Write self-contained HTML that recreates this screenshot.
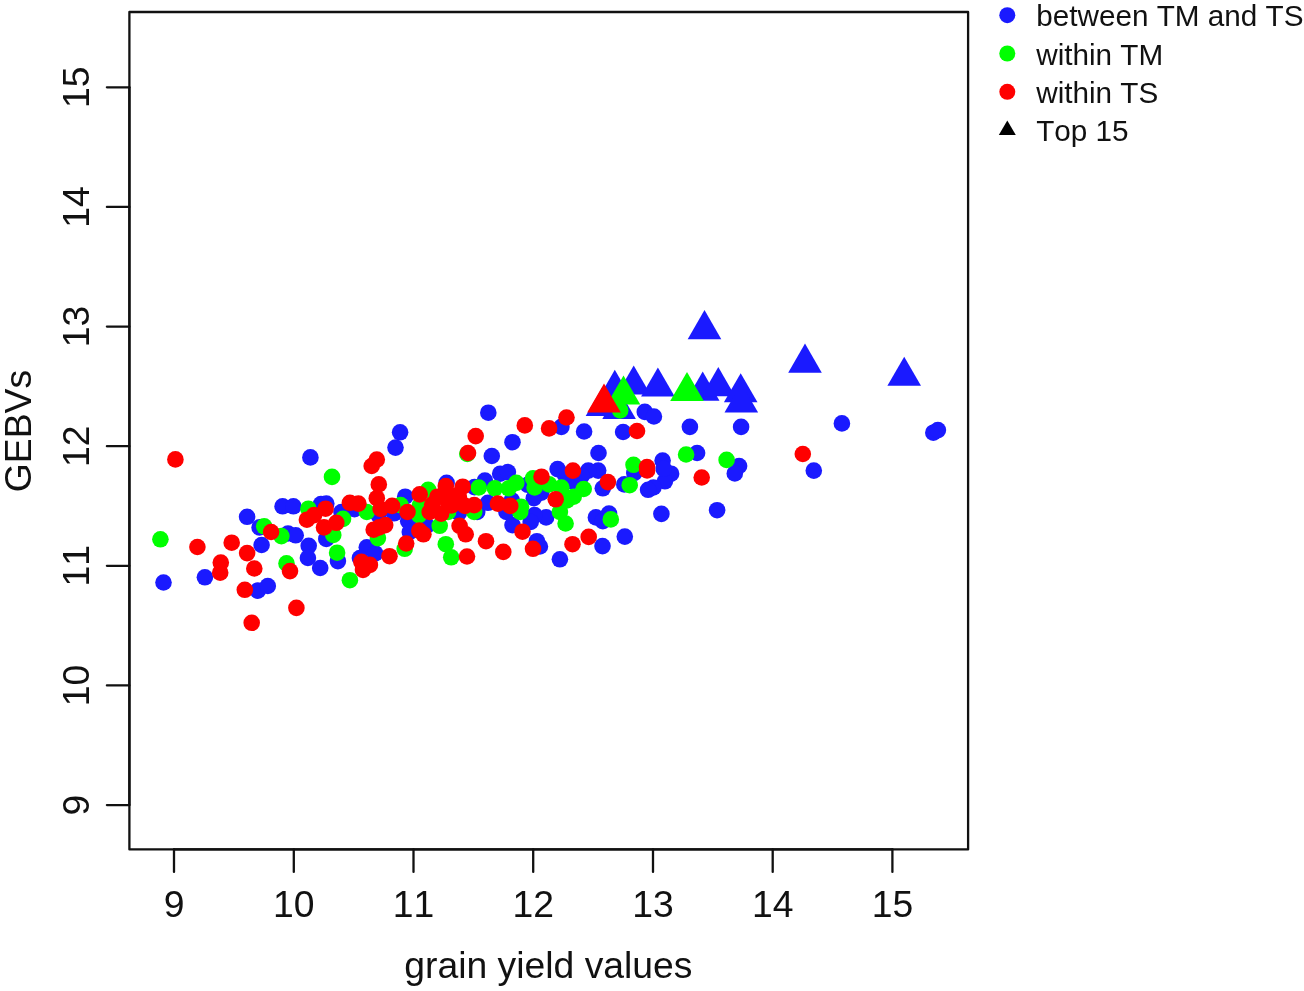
<!DOCTYPE html>
<html><head><meta charset="utf-8"><title>GEBVs vs grain yield values</title>
<style>
html,body{margin:0;padding:0;background:#fff;}
svg{display:block;}
text{font-family:"Liberation Sans",sans-serif;fill:#111;font-kerning:none;}
</style></head><body>
<svg width="1304" height="991" viewBox="0 0 1304 991">
<rect x="0" y="0" width="1304" height="991" fill="#ffffff"/>
<g fill="#1a1aff">
<polygon points="704.5,310.1 721.3,339.2 687.7,339.2" fill="#1a1aff"/>
<polygon points="614.8,369.8 631.6,398.9 598.0,398.9" fill="#1a1aff"/>
<polygon points="602.5,386.9 619.3,416.0 585.7,416.0" fill="#1a1aff"/>
<polygon points="619.1,389.9 635.9,419.0 602.3,419.0" fill="#1a1aff"/>
<polygon points="633.7,365.5 650.5,394.6 616.9,394.6" fill="#1a1aff"/>
<polygon points="657.9,367.5 674.7,396.6 641.1,396.6" fill="#1a1aff"/>
<polygon points="702.7,371.6 719.5,400.7 685.9,400.7" fill="#1a1aff"/>
<polygon points="718.3,367.1 735.1,396.2 701.5,396.2" fill="#1a1aff"/>
<polygon points="740.7,373.2 757.5,402.3 723.9,402.3" fill="#1a1aff"/>
<polygon points="741.3,383.5 758.1,412.6 724.5,412.6" fill="#1a1aff"/>
<polygon points="805.0,343.6 821.8,372.7 788.2,372.7" fill="#1a1aff"/>
<polygon points="904.2,356.7 921.0,385.8 887.4,385.8" fill="#1a1aff"/>
<circle cx="310.4" cy="457.4" r="8.3"/>
<circle cx="247.1" cy="516.8" r="8.3"/>
<circle cx="259.6" cy="527.4" r="8.3"/>
<circle cx="261.6" cy="545.0" r="8.3"/>
<circle cx="282.6" cy="506.3" r="8.3"/>
<circle cx="293.4" cy="506.3" r="8.3"/>
<circle cx="288.0" cy="533.5" r="8.3"/>
<circle cx="295.7" cy="535.3" r="8.3"/>
<circle cx="326.3" cy="503.6" r="8.3"/>
<circle cx="321.0" cy="504.0" r="8.3"/>
<circle cx="308.7" cy="545.8" r="8.3"/>
<circle cx="307.9" cy="558.0" r="8.3"/>
<circle cx="320.2" cy="568.0" r="8.3"/>
<circle cx="326.3" cy="538.9" r="8.3"/>
<circle cx="337.9" cy="561.1" r="8.3"/>
<circle cx="400.1" cy="432.3" r="8.3"/>
<circle cx="395.5" cy="447.6" r="8.3"/>
<circle cx="405.2" cy="496.7" r="8.3"/>
<circle cx="446.6" cy="482.9" r="8.3"/>
<circle cx="408.2" cy="521.2" r="8.3"/>
<circle cx="409.8" cy="532.0" r="8.3"/>
<circle cx="366.8" cy="547.3" r="8.3"/>
<circle cx="375.2" cy="553.4" r="8.3"/>
<circle cx="359.9" cy="558.0" r="8.3"/>
<circle cx="341.5" cy="512.0" r="8.3"/>
<circle cx="491.8" cy="456.0" r="8.3"/>
<circle cx="512.5" cy="442.2" r="8.3"/>
<circle cx="500.2" cy="473.7" r="8.3"/>
<circle cx="507.9" cy="472.1" r="8.3"/>
<circle cx="484.9" cy="480.6" r="8.3"/>
<circle cx="477.2" cy="512.0" r="8.3"/>
<circle cx="488.0" cy="502.8" r="8.3"/>
<circle cx="506.4" cy="512.0" r="8.3"/>
<circle cx="512.5" cy="525.1" r="8.3"/>
<circle cx="561.4" cy="426.9" r="8.3"/>
<circle cx="584.1" cy="431.5" r="8.3"/>
<circle cx="623.1" cy="432.0" r="8.3"/>
<circle cx="689.9" cy="426.9" r="8.3"/>
<circle cx="598.5" cy="453.0" r="8.3"/>
<circle cx="697.1" cy="453.0" r="8.3"/>
<circle cx="662.6" cy="460.6" r="8.3"/>
<circle cx="671.1" cy="473.7" r="8.3"/>
<circle cx="664.9" cy="481.3" r="8.3"/>
<circle cx="653.4" cy="487.5" r="8.3"/>
<circle cx="648.1" cy="489.8" r="8.3"/>
<circle cx="634.3" cy="472.9" r="8.3"/>
<circle cx="624.3" cy="484.4" r="8.3"/>
<circle cx="602.8" cy="488.3" r="8.3"/>
<circle cx="598.2" cy="470.6" r="8.3"/>
<circle cx="588.3" cy="470.6" r="8.3"/>
<circle cx="557.6" cy="469.1" r="8.3"/>
<circle cx="546.1" cy="517.4" r="8.3"/>
<circle cx="534.6" cy="515.1" r="8.3"/>
<circle cx="530.7" cy="522.0" r="8.3"/>
<circle cx="533.8" cy="498.2" r="8.3"/>
<circle cx="536.9" cy="541.2" r="8.3"/>
<circle cx="539.9" cy="546.5" r="8.3"/>
<circle cx="559.9" cy="559.3" r="8.3"/>
<circle cx="602.5" cy="546.1" r="8.3"/>
<circle cx="624.8" cy="536.6" r="8.3"/>
<circle cx="595.9" cy="517.4" r="8.3"/>
<circle cx="609.0" cy="513.6" r="8.3"/>
<circle cx="602.8" cy="521.2" r="8.3"/>
<circle cx="661.4" cy="513.9" r="8.3"/>
<circle cx="717.1" cy="510.2" r="8.3"/>
<circle cx="572.1" cy="481.3" r="8.3"/>
<circle cx="741.1" cy="426.9" r="8.3"/>
<circle cx="841.9" cy="423.4" r="8.3"/>
<circle cx="739.1" cy="466.0" r="8.3"/>
<circle cx="734.8" cy="473.4" r="8.3"/>
<circle cx="813.8" cy="470.6" r="8.3"/>
<circle cx="163.5" cy="582.5" r="8.3"/>
<circle cx="204.9" cy="577.3" r="8.3"/>
<circle cx="257.8" cy="590.6" r="8.3"/>
<circle cx="267.8" cy="586.0" r="8.3"/>
<circle cx="488.3" cy="412.7" r="8.3"/>
<circle cx="644.8" cy="411.9" r="8.3"/>
<circle cx="653.9" cy="416.5" r="8.3"/>
<circle cx="933.3" cy="432.7" r="8.3"/>
<circle cx="937.9" cy="430.1" r="8.3"/>
<circle cx="458.9" cy="512.9" r="8.3"/>
<circle cx="474.5" cy="487.1" r="8.3"/>
<circle cx="426.7" cy="525.7" r="8.3"/>
<circle cx="511.8" cy="500.4" r="8.3"/>
<circle cx="378.5" cy="515.2" r="8.3"/>
<circle cx="394.1" cy="513.3" r="8.3"/>
<circle cx="354.5" cy="509.2" r="8.3"/>
<circle cx="541.3" cy="492.6" r="8.3"/>
<circle cx="565.1" cy="475.1" r="8.3"/>
<circle cx="581.7" cy="476.0" r="8.3"/>
<circle cx="527.8" cy="484.8" r="8.3"/>
<circle cx="663.7" cy="468.8" r="8.3"/>
</g>
<g fill="#00ff00">
<polygon points="623.5,375.5 640.3,404.6 606.7,404.6" fill="#00ff00"/>
<polygon points="687.0,372.0 703.8,401.1 670.2,401.1" fill="#00ff00"/>
<circle cx="332.0" cy="476.9" r="8.3"/>
<circle cx="160.4" cy="539.3" r="8.3"/>
<circle cx="264.2" cy="526.3" r="8.3"/>
<circle cx="281.4" cy="536.1" r="8.3"/>
<circle cx="308.4" cy="508.7" r="8.3"/>
<circle cx="286.5" cy="563.4" r="8.3"/>
<circle cx="337.1" cy="552.7" r="8.3"/>
<circle cx="333.3" cy="535.0" r="8.3"/>
<circle cx="366.8" cy="512.0" r="8.3"/>
<circle cx="400.6" cy="505.1" r="8.3"/>
<circle cx="428.2" cy="489.8" r="8.3"/>
<circle cx="419.0" cy="515.1" r="8.3"/>
<circle cx="448.1" cy="512.0" r="8.3"/>
<circle cx="439.7" cy="525.8" r="8.3"/>
<circle cx="404.7" cy="548.8" r="8.3"/>
<circle cx="377.9" cy="538.1" r="8.3"/>
<circle cx="343.0" cy="518.9" r="8.3"/>
<circle cx="467.3" cy="454.0" r="8.3"/>
<circle cx="478.8" cy="487.5" r="8.3"/>
<circle cx="494.9" cy="488.3" r="8.3"/>
<circle cx="508.7" cy="488.3" r="8.3"/>
<circle cx="516.3" cy="482.9" r="8.3"/>
<circle cx="474.2" cy="512.0" r="8.3"/>
<circle cx="521.0" cy="506.7" r="8.3"/>
<circle cx="520.2" cy="512.0" r="8.3"/>
<circle cx="445.8" cy="544.2" r="8.3"/>
<circle cx="451.2" cy="557.3" r="8.3"/>
<circle cx="686.1" cy="454.5" r="8.3"/>
<circle cx="633.5" cy="464.8" r="8.3"/>
<circle cx="629.7" cy="485.2" r="8.3"/>
<circle cx="533.0" cy="478.3" r="8.3"/>
<circle cx="534.6" cy="487.5" r="8.3"/>
<circle cx="549.1" cy="484.4" r="8.3"/>
<circle cx="561.4" cy="487.5" r="8.3"/>
<circle cx="583.7" cy="489.0" r="8.3"/>
<circle cx="573.7" cy="496.7" r="8.3"/>
<circle cx="559.9" cy="512.0" r="8.3"/>
<circle cx="565.6" cy="523.5" r="8.3"/>
<circle cx="610.8" cy="519.4" r="8.3"/>
<circle cx="726.6" cy="459.9" r="8.3"/>
<circle cx="349.9" cy="580.2" r="8.3"/>
<circle cx="620.2" cy="410.4" r="8.3"/>
<circle cx="419.8" cy="505.5" r="8.3"/>
<circle cx="566.9" cy="500.4" r="8.3"/>
</g>
<g fill="#ff0000">
<polygon points="604.0,383.5 620.8,412.6 587.2,412.6" fill="#ff0000"/>
<circle cx="175.4" cy="459.4" r="8.3"/>
<circle cx="197.4" cy="547.0" r="8.3"/>
<circle cx="231.7" cy="542.7" r="8.3"/>
<circle cx="247.1" cy="553.1" r="8.3"/>
<circle cx="271.1" cy="532.0" r="8.3"/>
<circle cx="306.9" cy="519.7" r="8.3"/>
<circle cx="314.1" cy="515.1" r="8.3"/>
<circle cx="325.6" cy="508.7" r="8.3"/>
<circle cx="324.0" cy="527.4" r="8.3"/>
<circle cx="336.3" cy="522.8" r="8.3"/>
<circle cx="290.0" cy="571.1" r="8.3"/>
<circle cx="220.8" cy="562.6" r="8.3"/>
<circle cx="254.3" cy="568.5" r="8.3"/>
<circle cx="376.8" cy="459.6" r="8.3"/>
<circle cx="371.7" cy="466.0" r="8.3"/>
<circle cx="378.8" cy="484.4" r="8.3"/>
<circle cx="376.8" cy="498.2" r="8.3"/>
<circle cx="349.9" cy="502.8" r="8.3"/>
<circle cx="358.4" cy="503.6" r="8.3"/>
<circle cx="380.6" cy="509.0" r="8.3"/>
<circle cx="392.1" cy="505.9" r="8.3"/>
<circle cx="407.5" cy="512.0" r="8.3"/>
<circle cx="419.7" cy="494.4" r="8.3"/>
<circle cx="445.8" cy="486.0" r="8.3"/>
<circle cx="462.7" cy="486.7" r="8.3"/>
<circle cx="437.4" cy="496.7" r="8.3"/>
<circle cx="446.6" cy="499.8" r="8.3"/>
<circle cx="457.3" cy="495.2" r="8.3"/>
<circle cx="429.7" cy="512.0" r="8.3"/>
<circle cx="441.2" cy="513.6" r="8.3"/>
<circle cx="419.3" cy="530.6" r="8.3"/>
<circle cx="423.4" cy="534.3" r="8.3"/>
<circle cx="406.2" cy="543.5" r="8.3"/>
<circle cx="389.5" cy="556.2" r="8.3"/>
<circle cx="361.4" cy="561.9" r="8.3"/>
<circle cx="369.9" cy="564.9" r="8.3"/>
<circle cx="373.7" cy="529.7" r="8.3"/>
<circle cx="385.2" cy="525.1" r="8.3"/>
<circle cx="379.1" cy="527.4" r="8.3"/>
<circle cx="475.7" cy="436.1" r="8.3"/>
<circle cx="468.0" cy="453.0" r="8.3"/>
<circle cx="524.8" cy="425.4" r="8.3"/>
<circle cx="474.2" cy="505.1" r="8.3"/>
<circle cx="465.0" cy="505.9" r="8.3"/>
<circle cx="497.9" cy="503.6" r="8.3"/>
<circle cx="510.2" cy="505.9" r="8.3"/>
<circle cx="522.5" cy="531.7" r="8.3"/>
<circle cx="459.6" cy="525.8" r="8.3"/>
<circle cx="465.7" cy="534.3" r="8.3"/>
<circle cx="486.0" cy="541.2" r="8.3"/>
<circle cx="503.3" cy="551.9" r="8.3"/>
<circle cx="467.0" cy="556.5" r="8.3"/>
<circle cx="549.1" cy="428.4" r="8.3"/>
<circle cx="566.5" cy="417.5" r="8.3"/>
<circle cx="637.0" cy="431.0" r="8.3"/>
<circle cx="701.7" cy="477.5" r="8.3"/>
<circle cx="647.0" cy="467.1" r="8.3"/>
<circle cx="607.9" cy="482.1" r="8.3"/>
<circle cx="572.9" cy="470.6" r="8.3"/>
<circle cx="541.5" cy="476.7" r="8.3"/>
<circle cx="555.7" cy="499.3" r="8.3"/>
<circle cx="533.0" cy="548.8" r="8.3"/>
<circle cx="572.5" cy="544.2" r="8.3"/>
<circle cx="588.7" cy="536.9" r="8.3"/>
<circle cx="802.8" cy="454.0" r="8.3"/>
<circle cx="220.2" cy="572.7" r="8.3"/>
<circle cx="244.8" cy="589.8" r="8.3"/>
<circle cx="296.4" cy="607.9" r="8.3"/>
<circle cx="251.7" cy="622.8" r="8.3"/>
<circle cx="363.0" cy="569.9" r="8.3"/>
<circle cx="432.2" cy="504.6" r="8.3"/>
<circle cx="451.5" cy="505.5" r="8.3"/>
<circle cx="458.9" cy="497.2" r="8.3"/>
<circle cx="647.1" cy="470.5" r="8.3"/>
</g>
<g stroke="#111" stroke-width="2.3" fill="none" stroke-linecap="round" stroke-linejoin="round">
<rect x="129.4" y="12.0" width="838.70" height="837.45"/>
<line x1="174.0" y1="849.45" x2="892.4" y2="849.45"/>
<line x1="129.4" y1="805.1" x2="129.4" y2="87.3"/>
<line x1="174.0" y1="849.45" x2="174.0" y2="871.95"/>
<line x1="129.4" y1="805.1" x2="106.9" y2="805.1"/>
<line x1="293.8" y1="849.45" x2="293.8" y2="871.95"/>
<line x1="129.4" y1="685.4" x2="106.9" y2="685.4"/>
<line x1="413.5" y1="849.45" x2="413.5" y2="871.95"/>
<line x1="129.4" y1="565.8" x2="106.9" y2="565.8"/>
<line x1="533.2" y1="849.45" x2="533.2" y2="871.95"/>
<line x1="129.4" y1="446.2" x2="106.9" y2="446.2"/>
<line x1="653.0" y1="849.45" x2="653.0" y2="871.95"/>
<line x1="129.4" y1="326.6" x2="106.9" y2="326.6"/>
<line x1="772.7" y1="849.45" x2="772.7" y2="871.95"/>
<line x1="129.4" y1="206.9" x2="106.9" y2="206.9"/>
<line x1="892.4" y1="849.45" x2="892.4" y2="871.95"/>
<line x1="129.4" y1="87.3" x2="106.9" y2="87.3"/>
</g>
<g font-size="37.3" text-anchor="middle">
<text x="174.0" y="916.6">9</text>
<text x="293.8" y="916.6">10</text>
<text x="413.5" y="916.6">11</text>
<text x="533.2" y="916.6">12</text>
<text x="653.0" y="916.6">13</text>
<text x="772.7" y="916.6">14</text>
<text x="892.4" y="916.6">15</text>
<text transform="translate(88.8,805.1) rotate(-90)">9</text>
<text transform="translate(88.8,685.4) rotate(-90)">10</text>
<text transform="translate(88.8,565.8) rotate(-90)">11</text>
<text transform="translate(88.8,446.2) rotate(-90)">12</text>
<text transform="translate(88.8,326.6) rotate(-90)">13</text>
<text transform="translate(88.8,206.9) rotate(-90)">14</text>
<text transform="translate(88.8,87.3) rotate(-90)">15</text>
<text x="548.4" y="977.9">grain yield values</text>
<text transform="translate(31,431) rotate(-90)">GEBVs</text>
</g>
<g font-size="29.7">
<circle cx="1007.3" cy="15.2" r="8" fill="#1a1aff"/>
<circle cx="1007.3" cy="53.5" r="8" fill="#00ff00"/>
<circle cx="1007.3" cy="91.8" r="8" fill="#ff0000"/>
<polygon points="1007.3,120.4 1015.8,135.1 998.8,135.1" fill="#000"/>
<text x="1036.2" y="26.0">between TM and TS</text>
<text x="1036.2" y="64.5">within TM</text>
<text x="1036.2" y="102.8">within TS</text>
<text x="1036.2" y="140.9">Top 15</text>
</g>
</svg></body></html>
